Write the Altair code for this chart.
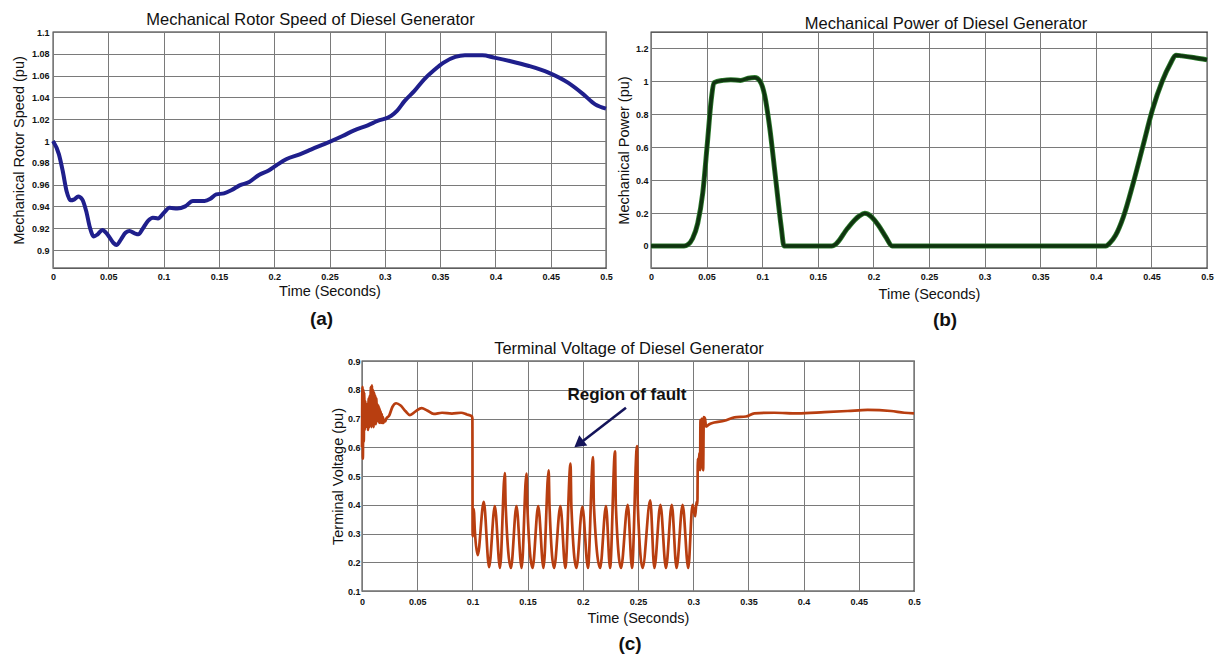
import altair as alt
import pandas as pd

FONT = "Liberation Sans"

# ---------------- data ----------------
# (a) mechanical rotor speed
t_a = [0, 0.0053, 0.0088, 0.0123, 0.0158, 0.0193, 0.0228, 0.0264, 0.030, 0.0334, 0.0369,
       0.0404, 0.0446, 0.0492, 0.0545, 0.0573, 0.0615, 0.0657, 0.0692, 0.0738, 0.0773,
       0.0808, 0.0861, 0.0903, 0.0949, 0.1001, 0.1054, 0.1124, 0.1195, 0.1265, 0.137,
       0.1423, 0.1476, 0.1546, 0.1616, 0.1687, 0.1774, 0.1862, 0.195, 0.202, 0.2108,
       0.2231, 0.2337, 0.2495, 0.2618, 0.2723, 0.2846, 0.2934, 0.3057, 0.311, 0.318,
       0.3268, 0.3356, 0.3444, 0.3532, 0.3637, 0.3725, 0.3883, 0.3989, 0.4129, 0.4304,
       0.448, 0.4656, 0.4796, 0.4902, 0.5]
v_a = [1.000, 0.988, 0.9725, 0.954, 0.9456, 0.9465, 0.949, 0.9465, 0.9358, 0.9205, 0.9125,
       0.9144, 0.9184, 0.9144, 0.9067, 0.9046, 0.9098, 0.916, 0.9174, 0.9153, 0.9144,
       0.919, 0.927, 0.9297, 0.929, 0.934, 0.9388, 0.938, 0.940, 0.945, 0.945,
       0.947, 0.951, 0.952, 0.955, 0.9593, 0.9624, 0.9689, 0.973, 0.9777, 0.9832,
       0.9878, 0.9924, 0.999, 1.0046, 1.0098, 1.0144, 1.0184, 1.023, 1.0276, 1.0368,
       1.046, 1.0566, 1.0649, 1.0719, 1.0771, 1.0786, 1.0786, 1.0765, 1.0734, 1.0688,
       1.0627, 1.0535, 1.0428, 1.0336, 1.0297]

# (b) mechanical power
t_b = [0, 0.0297, 0.0332, 0.0374, 0.042, 0.0465, 0.0507, 0.0542, 0.0566, 0.0647, 0.0717,
       0.0804, 0.0874, 0.0934, 0.0979, 0.1024, 0.1066, 0.1119, 0.1171, 0.1196, 0.1626,
       0.166, 0.1766, 0.1871, 0.1923, 0.1976, 0.2045, 0.2115, 0.2168, 0.4091, 0.4126,
       0.4178, 0.4248, 0.4336, 0.4423, 0.451, 0.4598, 0.4668, 0.472, 0.4773, 0.4878, 0.5]
v_b = [0, 0, 0.008, 0.045, 0.137, 0.32, 0.625, 0.89, 0.992, 1.006, 1.01,
       1.006, 1.019, 1.023, 1.002, 0.91, 0.727, 0.42, 0.116, 0, 0,
       0.01, 0.106, 0.181, 0.198, 0.181, 0.126, 0.051, 0, 0, 0.018,
       0.065, 0.177, 0.381, 0.605, 0.829, 1.002, 1.104, 1.159, 1.155, 1.145, 1.131]

# (c) terminal voltage
t_c = [0.0000, 0.0004, 0.0008, 0.0012, 0.0016, 0.0020, 0.0025, 0.0030, 0.0035, 0.0040,
       0.0045, 0.0050, 0.0055, 0.0060, 0.0065, 0.0070, 0.0075, 0.0080, 0.0085, 0.0090,
       0.0095, 0.0100, 0.0105, 0.0110, 0.0115, 0.0120, 0.0125, 0.0130, 0.0135, 0.0140,
       0.0145, 0.0150, 0.0155, 0.0160, 0.0165, 0.0170, 0.0175, 0.0180, 0.0185, 0.0190,
       0.0195, 0.0200, 0.0210, 0.0220,
       0.0246, 0.0275, 0.031, 0.035, 0.0395, 0.0434, 0.0485, 0.054, 0.059, 0.065,
       0.0725, 0.0814, 0.0898, 0.095, 0.0994, 0.1000,
       0.1002, 0.1012, 0.1022, 0.1048, 0.1103, 0.1151, 0.1203, 0.1250, 0.1294, 0.1301,
       0.1349, 0.1399, 0.1446, 0.1490, 0.1497, 0.1545, 0.1596, 0.1644, 0.1691, 0.1698,
       0.1740, 0.1797, 0.1842, 0.1889, 0.1896, 0.1942, 0.1996, 0.2047, 0.2093, 0.2100,
       0.2157, 0.2210, 0.2247, 0.2292, 0.2299, 0.2346, 0.2407, 0.2446, 0.2491, 0.2498,
       0.2542, 0.2611, 0.2648, 0.2703, 0.2753, 0.2806, 0.2849, 0.2904, 0.2955, 0.2994,
       0.3018, 0.3030, 0.3038, 0.3042, 0.3048, 0.3055, 0.3062, 0.3066, 0.3072, 0.3078,
       0.3084, 0.3090, 0.3096, 0.3107, 0.3116, 0.3146, 0.3191, 0.3282, 0.3373, 0.3478,
       0.3554, 0.3735, 0.3946, 0.4188, 0.4399, 0.4580, 0.4792, 0.4912, 0.5000]
v_c = [0.60, 0.81, 0.56, 0.80, 0.62, 0.79, 0.66, 0.76, 0.68, 0.75,
       0.67, 0.74, 0.66, 0.77, 0.67, 0.78, 0.68, 0.81, 0.67, 0.815,
       0.68, 0.80, 0.67, 0.79, 0.69, 0.78, 0.68, 0.77, 0.69, 0.75,
       0.69, 0.745, 0.685, 0.735, 0.685, 0.725, 0.685, 0.715, 0.685, 0.705,
       0.685, 0.695, 0.69, 0.70,
       0.71, 0.74, 0.753, 0.745, 0.725, 0.712, 0.725, 0.736, 0.728, 0.716,
       0.72, 0.717, 0.72, 0.714, 0.708, 0.70,
       0.29, 0.385, 0.31, 0.225, 0.41, 0.183, 0.395, 0.18, 0.51, 0.40,
       0.18, 0.395, 0.18, 0.508, 0.40, 0.18, 0.395, 0.18, 0.52, 0.40,
       0.18, 0.395, 0.18, 0.543, 0.40, 0.18, 0.393, 0.18, 0.566, 0.40,
       0.18, 0.395, 0.18, 0.586, 0.40, 0.18, 0.40, 0.18, 0.604, 0.40,
       0.18, 0.415, 0.18, 0.40, 0.18, 0.40, 0.18, 0.40, 0.18, 0.40,
       0.36, 0.41, 0.40, 0.56, 0.52, 0.58, 0.52, 0.695, 0.55, 0.70,
       0.54, 0.52, 0.705, 0.70, 0.672, 0.68, 0.686, 0.692, 0.704, 0.707,
       0.718, 0.72, 0.718, 0.722, 0.726, 0.73, 0.726, 0.72, 0.718]

# annotation (c)
note_text = ["Region of fault"]
note_t = [0.24]
note_v = [0.765]
arrow_t = [0.2391]
arrow_v = [0.7374]
arrow_t2 = [0.1984]
arrow_v2 = [0.6163]
head_t = [0.1964]
head_v = [0.6118]

x_ticks = [0, 0.05, 0.1, 0.15, 0.2, 0.25, 0.3, 0.35, 0.4, 0.45, 0.5]
ya_ticks = [0.9, 0.92, 0.94, 0.96, 0.98, 1.0, 1.02, 1.04, 1.06, 1.08, 1.1]
yb_ticks = [0, 0.2, 0.4, 0.6, 0.8, 1.0, 1.2]
yc_ticks = [0.1, 0.2, 0.3, 0.4, 0.5, 0.6, 0.7, 0.8, 0.9]

titles = ["Mechanical Rotor Speed of Diesel Generator",
          "Mechanical Power of Diesel Generator",
          "Terminal Voltage of Diesel Generator"]
ytitles = ["Mechanical Rotor Speed (pu)", "Mechanical Power (pu)", "Terminal Voltage (pu)"]
panel_labels = ["(a)", "(b)", "(c)"]

# ---------------- styling helpers ----------------
GRID = "#7a7a7a"
TXT = "#111111"


def x_axis(label_pad=4, title_pad=3):
    return alt.Axis(values=x_ticks, format=".2~f", title="Time (Seconds)",
                    titleFontSize=14.5, titleFontWeight="normal", titleColor=TXT,
                    labelFontSize=9, labelFontWeight="bold", labelColor=TXT,
                    labelPadding=label_pad, titlePadding=title_pad,
                    grid=True, gridColor=GRID, gridWidth=1,
                    ticks=False, domain=False, labelFlush=False, labelOverlap=False)


def y_axis(values, fmt, title, label_pad, title_pad):
    return alt.Axis(values=values, format=fmt, title=title,
                    titleFontSize=14.5, titleFontWeight="normal", titleColor=TXT,
                    labelFontSize=9, labelFontWeight="bold", labelColor=TXT,
                    labelPadding=label_pad, titlePadding=title_pad,
                    grid=True, gridColor=GRID, gridWidth=1,
                    ticks=False, domain=False, labelOverlap=False, labelFlush=False)


def panel_title(text, dx, offset):
    return alt.TitleParams(text=text, fontSize=16.5, fontWeight="normal", color=TXT,
                           frame="group", anchor="middle", dx=dx, offset=offset)


def label_layer(text, x, y):
    return alt.Chart(pd.DataFrame({"s": [text]})).mark_text(
        fontSize=19, fontWeight="bold", color=TXT, baseline="middle", align="center"
    ).encode(x=alt.value(x), y=alt.value(y), text="s:N")


WA, HA = 553, 236
WB, HB = 556, 236
WC, HC = 552, 230

# ---------------- panel (a) ----------------
da = pd.DataFrame({"t": t_a, "v": v_a})
line_a = alt.Chart(da).mark_line(color="#1f1f8c", strokeWidth=4, interpolate="monotone").encode(
    x=alt.X("t:Q", scale=alt.Scale(domain=[0, 0.5], nice=False, zero=False), axis=x_axis()),
    y=alt.Y("v:Q", scale=alt.Scale(domain=[0.8835, 1.1], nice=False, zero=False),
            axis=y_axis(ya_ticks, ".2~f", ytitles[0], 4, 5)),
)
A = alt.layer(line_a, label_layer(panel_labels[0], WA / 2 - 8, HA + 51)).properties(
    width=WA, height=HA, title=panel_title(titles[0], -19, 0))

# ---------------- panel (b) ----------------
db = pd.DataFrame({"t": t_b, "v": v_b})
xb = alt.X("t:Q", scale=alt.Scale(domain=[0, 0.5], nice=False, zero=False), axis=x_axis(4, 6))
yb = alt.Y("v:Q", scale=alt.Scale(domain=[-0.134, 1.3], nice=False, zero=False),
           axis=y_axis(yb_ticks, ".1~f", ytitles[1], 3, 4))
line_b_edge = alt.Chart(db).mark_line(color="#2e7d2e", strokeWidth=5, interpolate="monotone").encode(x=xb, y=yb)
line_b = alt.Chart(db).mark_line(color="#0f330f", strokeWidth=3.4, interpolate="monotone").encode(x=xb, y=yb)
B = alt.layer(line_b_edge, line_b, label_layer(panel_labels[1], WB / 2 + 16, HB + 52)).properties(
    width=WB, height=HB, title=panel_title(titles[1], 17, 0))

# ---------------- panel (c) ----------------
dc = pd.DataFrame({"t": t_c, "v": v_c})
xc = alt.X("t:Q", scale=alt.Scale(domain=[0, 0.5], nice=False, zero=False), axis=x_axis(6, 5))
yc = alt.Y("v:Q", scale=alt.Scale(domain=[0.1, 0.9], nice=False, zero=False),
           axis=y_axis(yc_ticks, ".1f", ytitles[2], 2, 2))
line_c = alt.Chart(dc).mark_line(color="#b83e10", strokeWidth=2.7, interpolate="monotone").encode(x=xc, y=yc)

dn = pd.DataFrame({"t": note_t, "v": note_v, "s": note_text})
note = alt.Chart(dn).mark_text(fontSize=17, fontWeight="bold", color=TXT, align="center",
                               baseline="alphabetic").encode(x=xc, y=yc, text="s:N")
dar = pd.DataFrame({"t": arrow_t, "v": arrow_v, "t2": arrow_t2, "v2": arrow_v2})
shaft = alt.Chart(dar).mark_rule(color="#14145a", strokeWidth=2.6).encode(
    x=xc, y=yc, x2="t2:Q", y2="v2:Q")
dh = pd.DataFrame({"t": head_t, "v": head_v})
head = alt.Chart(dh).mark_point(shape="triangle-up", filled=True, color="#14145a", size=170,
                                angle=232, opacity=1).encode(x=xc, y=yc)
C = alt.layer(line_c, shaft, head, note,
              label_layer(panel_labels[2], WC / 2 - 8, HC + 53)).properties(
    width=WC, height=HC, title=panel_title(titles[2], -9, 0))

spacer = alt.Chart(pd.DataFrame({"a": [0]})).mark_point(opacity=0).properties(
    width=276, height=1, view=alt.ViewBackground(strokeOpacity=0))

top = alt.hconcat(A, B, spacing=0)
bottom = alt.hconcat(spacer, C, spacing=0)
chart = alt.vconcat(top, bottom, spacing=8).properties(
    padding={"left": 10, "top": 10, "right": 0, "bottom": 0},
    background="white",
).configure(font=FONT).configure_view(stroke="#2a2a2a", strokeWidth=1.3)

chart.save("out.html", embed_options={"renderer": "svg", "actions": False})
